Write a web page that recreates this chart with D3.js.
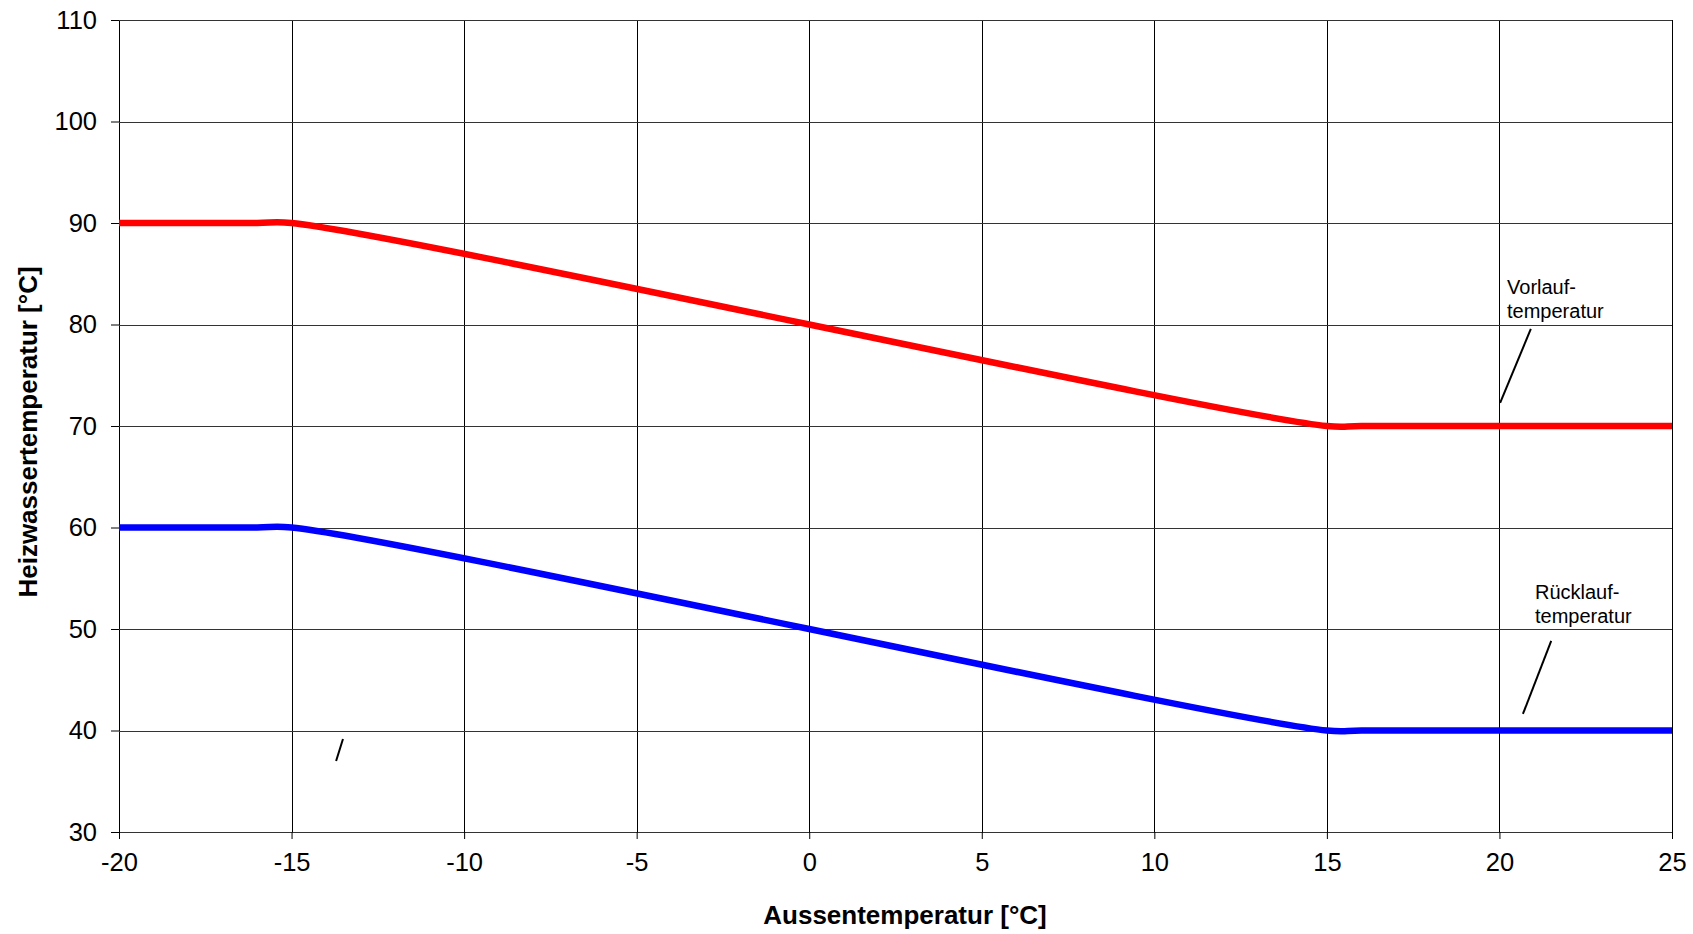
<!DOCTYPE html>
<html>
<head>
<meta charset="utf-8">
<script src="https://cdn.jsdelivr.net/npm/d3@7"></script>
<style>
	body { margin: 0; background: #fff; }
	text { font-family: Arial, "Liberation Sans", sans-serif; fill: #000; }
</style>
</head>
<body>
<svg id="chart" width="1693" height="934"></svg>
<script>
// Heizkurve: Vorlauf / Ruecklauf ueber Aussentemperatur
var xTicks = [-20, -15, -10, -5, 0, 5, 10, 15, 20, 25];
var yTicks = [30, 40, 50, 60, 70, 80, 90, 100, 110];

var outsideTemp = [-20, -16, -15, 15, 16, 25];
var flowTemp = [90, 90, 90, 70, 70, 70];
var returnTemp = [60, 60, 60, 40, 40, 40];

// labels + leader lines, in data units
var labelNames = [["Vorlauf-", "temperatur"], ["Rücklauf-", "temperatur"]];
var labelX = [20.22, 21.03];
var labelY = [83.0, 52.96];
var leaders = [
	[[20.91, 79.56], [20.02, 72.27]],
	[[21.5, 48.82], [20.68, 41.63]],
	[[-13.51, 39.16], [-13.71, 37.0]]
];

var margin = {top: 20, right: 21, bottom: 102, left: 119};
var svg = d3.select("#chart");
var width = +svg.attr("width") - margin.left - margin.right;
var height = +svg.attr("height") - margin.top - margin.bottom;

var x = d3.scaleLinear().domain([-20, 25]).range([0, width]);
var y = d3.scaleLinear().domain([30, 110]).range([height, 0]);

var g = svg.append("g").attr("transform", "translate(" + margin.left + "," + margin.top + ")");

// grid
g.selectAll(".vgrid").data(xTicks).enter().append("line")
	.attr("x1", function(d) { return Math.round(x(d)) + 0.5; })
	.attr("x2", function(d) { return Math.round(x(d)) + 0.5; })
	.attr("y1", 0).attr("y2", height)
	.attr("stroke", "#000").attr("stroke-width", 1);

g.selectAll(".hgrid").data(yTicks).enter().append("line")
	.attr("y1", function(d) { return Math.round(y(d)) + 0.5; })
	.attr("y2", function(d) { return Math.round(y(d)) + 0.5; })
	.attr("x1", 0).attr("x2", width)
	.attr("stroke", "#333").attr("stroke-width", 1);

// axes (plain hyphen for negatives, like the original)
var fmt = function(d) { return String(d); };
var xAxis = d3.axisBottom(x).tickValues(xTicks).tickFormat(fmt).tickSize(7).tickPadding(14);
var yAxis = d3.axisLeft(y).tickValues(yTicks).tickFormat(fmt).tickSize(8).tickPadding(14);

var gx = g.append("g").attr("transform", "translate(0," + height + ")").call(xAxis);
var gy = g.append("g").call(yAxis);
[gx, gy].forEach(function(ax) {
	ax.select(".domain").remove();
	ax.selectAll("line").attr("stroke", "#000");
	ax.selectAll("text").style("font-size", "25.5px").attr("font-family", null);
});
gx.selectAll("text").attr("dy", "0.71em");

// lines
var line = d3.line().curve(d3.curveCatmullRom.alpha(0.5))
	.x(function(d) { return x(d[0]); })
	.y(function(d) { return y(d[1]); });

var series = [
	{values: flowTemp, color: "#ff0000"},
	{values: returnTemp, color: "#0000ff"}
];
series.forEach(function(s) {
	var pts = outsideTemp.map(function(t, i) { return [t, s.values[i]]; });
	g.append("path")
		.attr("d", line(pts))
		.attr("fill", "none")
		.attr("stroke", s.color)
		.attr("stroke-width", 6.5);
});

// labels
labelNames.forEach(function(lines, i) {
	var t = g.append("text")
		.attr("x", x(labelX[i]))
		.attr("y", y(labelY[i]))
		.style("font-size", "20px");
	lines.forEach(function(l, j) {
		t.append("tspan").attr("x", x(labelX[i])).attr("dy", j == 0 ? 0 : 24).text(l);
	});
});

leaders.forEach(function(l) {
	g.append("line")
		.attr("x1", x(l[0][0])).attr("y1", y(l[0][1]))
		.attr("x2", x(l[1][0])).attr("y2", y(l[1][1]))
		.attr("stroke", "#000").attr("stroke-width", 2);
});

// axis titles
svg.append("text")
	.attr("x", 905).attr("y", 924)
	.attr("text-anchor", "middle")
	.style("font-size", "26px").style("font-weight", "bold")
	.text("Aussentemperatur [°C]");

svg.append("text")
	.attr("transform", "translate(37," + (margin.top + height / 2 + 6) + ") rotate(-90)")
	.attr("text-anchor", "middle")
	.style("font-size", "26px").style("font-weight", "bold")
	.text("Heizwassertemperatur [°C]");
</script>
</body>
</html>
